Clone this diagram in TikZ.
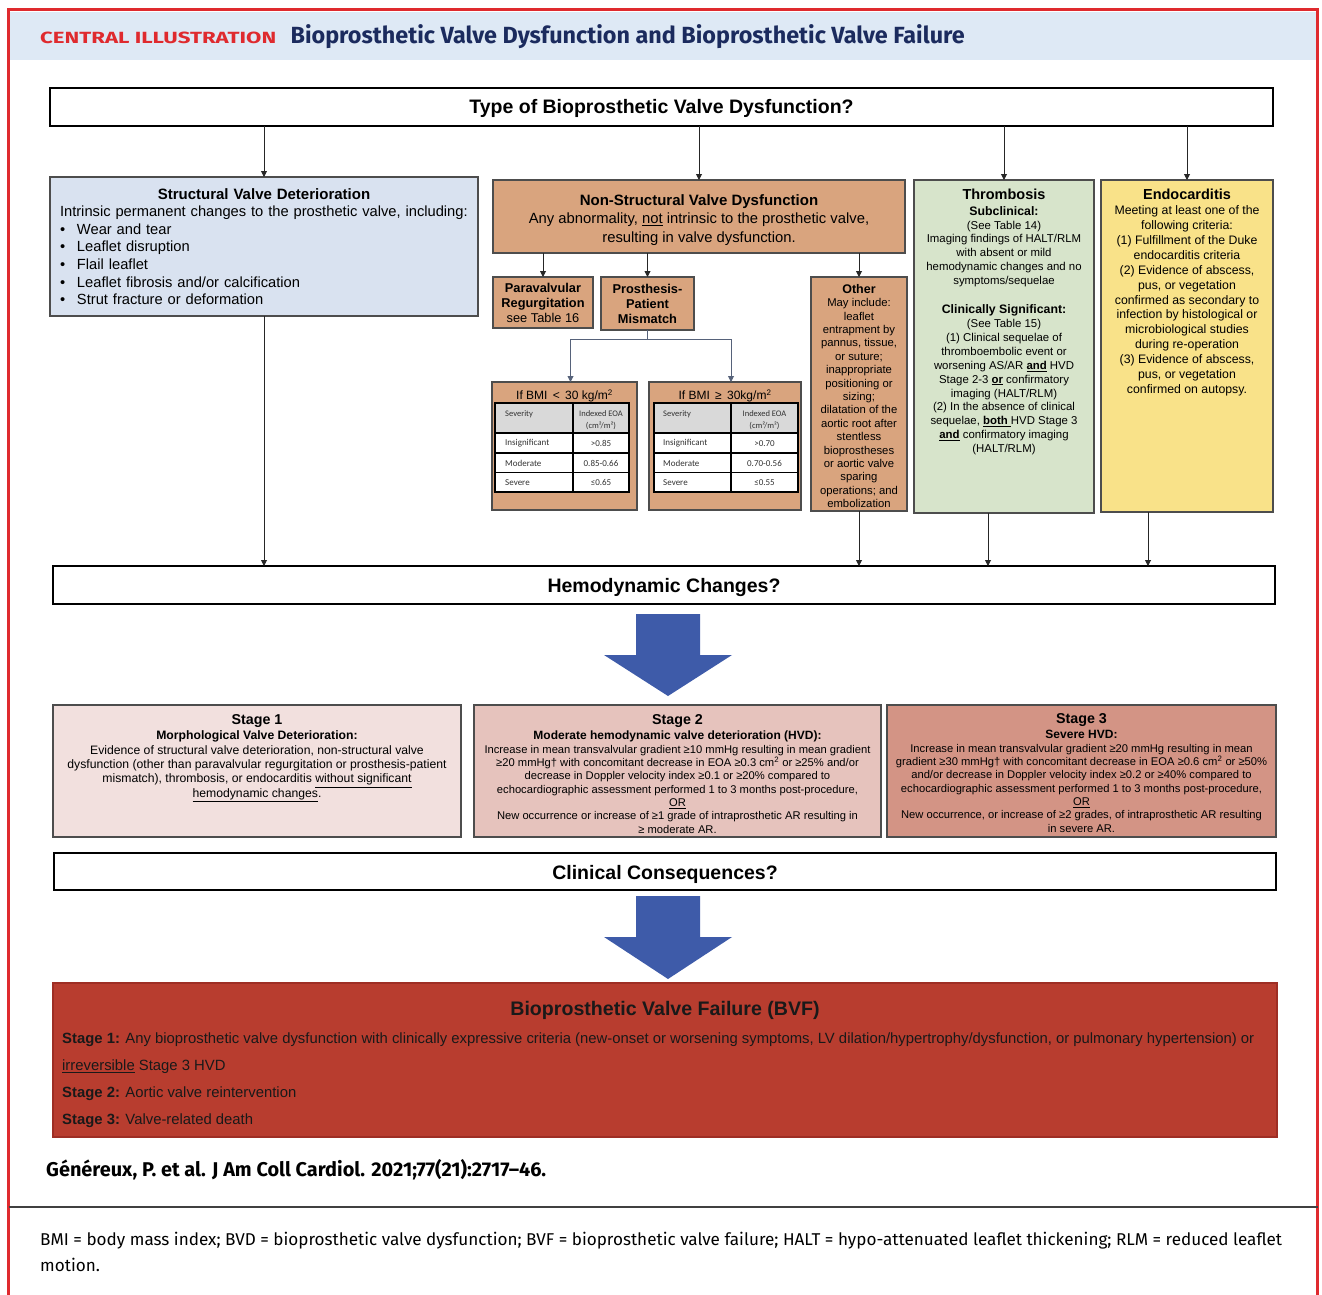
\documentclass[tikz,border=0pt]{standalone}
\usepackage{fontspec}
\usepackage{graphicx}
\setmainfont{Liberation Sans}
\newfontfamily\jaccfont{Fira Sans}
\newfontfamily\tabfont{Carlito}
\usetikzlibrary{positioning, arrows.meta}
\setlength{\parindent}{0pt}

\definecolor{framered}{HTML}{DF2A2E}
\definecolor{bandblue}{HTML}{DEE9F5}
\definecolor{titlenavy}{HTML}{1B2B5E}
\definecolor{boxgray}{HTML}{4D4D4D}
\definecolor{svblue}{HTML}{D9E2F0}
\definecolor{nstan}{HTML}{D9A47E}
\definecolor{thrgreen}{HTML}{D7E4CB}
\definecolor{endoyellow}{HTML}{F9E289}
\definecolor{stageone}{HTML}{F2E0DE}
\definecolor{stagetwo}{HTML}{E6C3BD}
\definecolor{stagethree}{HTML}{D39485}
\definecolor{bvfred}{HTML}{B83D2F}
\definecolor{bvfline}{HTML}{9E2E24}
\definecolor{arrowblue}{HTML}{3E5BA9}
\definecolor{hdrgray}{HTML}{D9D9D9}
\definecolor{linkgray}{HTML}{56627A}

\newcommand{\fsz}[2]{\fontsize{#1}{#2}\selectfont}

\tikzset{
  qbox/.style={draw=black, line width=1.4pt, anchor=north west, inner sep=0pt, outer sep=0pt,
    font=\fsz{19.5}{22}\bfseries, text height=16pt, text depth=2pt},
  cbox/.style={draw=boxgray, line width=1.1pt, anchor=north west, inner sep=0pt, outer sep=0pt},
  boxtext/.style={anchor=north, inner sep=0pt, align=center},
  arr/.style={-{Triangle[length=6pt,width=6pt]}, line width=0.9pt, black!85},
  tabline/.style={line width=1.4pt, black},
  tabtxt/.style={inner sep=0pt, text=black!80, font=\tabfont\fsz{9}{10}},
}

\begin{document}
\begin{tikzpicture}[x=1pt, y=-1pt]
\useasboundingbox (0,0) rectangle (1322,1295);
\node (band) [fill=bandblue, anchor=north west, inner sep=0pt, minimum width=1306pt, minimum height=48pt] at (10,12) {};
\draw[framered, line width=3pt] (8.5,1295) -- (8.5,10) -- (1317.5,10) -- (1317.5,1295);
\node (central) [anchor=base west, inner sep=0pt, text=framered, font=\jaccfont\bfseries] at (40,44) {\resizebox{236pt}{11.5pt}{CENTRAL ILLUSTRATION}};
\node (title) [right=14pt of central.base east, anchor=base west, inner sep=0pt, text=titlenavy, font=\jaccfont\bfseries\fsz{21}{24}] {\resizebox{674pt}{!}{Bioprosthetic Valve Dysfunction and Bioprosthetic Valve Failure}};

\node (typeq) [qbox, minimum width=1223pt, minimum height=38pt] at (50,88) {Type of Bioprosthetic Valve Dysfunction?};

\node (sv) [cbox, fill=svblue, minimum width=428pt, minimum height=139pt] at (50,177) {};
\node (svtext) [anchor=north, inner sep=0pt, text width=408pt, font=\fsz{14.7}{17.6}, below=11pt of sv.north] {{\centering\fsz{15}{17.6}\bfseries Structural Valve Deterioration\par}
Intrinsic permanent changes to the prosthetic valve,  including:\\
\makebox[17pt][l]{\textbullet}Wear and tear\\
\makebox[17pt][l]{\textbullet}Leaflet disruption\\
\makebox[17pt][l]{\textbullet}Flail leaflet\\
\makebox[17pt][l]{\textbullet}Leaflet fibrosis and/or calcification\\
\makebox[17pt][l]{\textbullet}Strut fracture or deformation};

\node (ns) [cbox, fill=nstan, minimum width=412pt, minimum height=73pt] at (493,180) {};
\node (nstext) [boxtext, font=\fsz{14.8}{18.3}, below=14.5pt of ns.north] {{\fsz{15}{18.3}\bfseries Non-Structural Valve Dysfunction}\\Any abnormality, \underline{not} intrinsic to the prosthetic valve,\\resulting in valve dysfunction.};

\node (pvr) [cbox, fill=nstan, minimum width=100pt, minimum height=51pt] at (493,277) {};
\node (pvrtext) [boxtext, font=\fsz{12.8}{15}, below=6.5pt of pvr.north] {\textbf{Paravalvular}\\\textbf{Regurgitation}\\see Table 16};

\node (ppm) [cbox, fill=nstan, minimum width=93pt, minimum height=53pt] at (601,277) {};
\node (ppmtext) [boxtext, font=\fsz{12.8}{15}\bfseries, below=7pt of ppm.north] {Prosthesis-\\Patient\\Mismatch};

\node (oth) [cbox, fill=nstan, minimum width=96pt, minimum height=234pt] at (811,277) {};
\node (othtext) [boxtext, font=\fsz{11.3}{13.4}, below=7pt of oth.north] {{\fsz{12.5}{13.4}\bfseries Other}\\May include:\\leaflet\\entrapment by\\pannus, tissue,\\or suture;\\inappropriate\\positioning or\\sizing;\\dilatation of the\\aortic root after\\stentless\\bioprostheses\\or aortic valve\\sparing\\operations; and\\embolization};

\node (bmilo) [cbox, fill=nstan, minimum width=145pt, minimum height=128pt] at (492,382) {};
\node (bmilotitle) [boxtext, font=\fsz{12}{14}, below=7.5pt of bmilo.north] {If BMI \,<\, 30 kg/m\textsuperscript{2}};
\node (bmihi) [cbox, fill=nstan, minimum width=152pt, minimum height=128pt] at (649,382) {};
\node (bmihititle) [boxtext, font=\fsz{12}{14}, below=7.5pt of bmihi.north] {If BMI \,≥\, 30kg/m\textsuperscript{2}};

\fill[hdrgray] (495,403) rectangle (629,433);
\fill[white] (495,433) rectangle (629,492);
\draw[tabline] (495,403) rectangle (629,492) (573,403) -- (573,492)
  (495,433) -- (629,433) (495,453) -- (629,453) (495,472.5) -- (629,472.5);
\node (losev) [tabtxt, anchor=west, font=\tabfont\fsz{8.5}{10}] at (505,414) {Severity};
\node (loeoa) [tabtxt, align=center, font=\tabfont\fsz{8.5}{12.5}] at (601,420) {Indexed EOA\\(cm²/m²)};
\node (loins) [tabtxt, anchor=west] at (505,443.5) {Insignificant};
\node (loinsv) [tabtxt] at (601,443.5) {>0.85};
\node (lomod) [tabtxt, anchor=west] at (505,463) {Moderate};
\node (lomodv) [tabtxt] at (601,463) {0.85-0.66};
\node (losvr) [tabtxt, anchor=west] at (505,482.5) {Severe};
\node (losvrv) [tabtxt] at (601,482.5) {≤0.65};

\fill[hdrgray] (654,403) rectangle (798,433);
\fill[white] (654,433) rectangle (798,492);
\draw[tabline] (654,403) rectangle (798,492) (731,403) -- (731,492)
  (654,433) -- (798,433) (654,453) -- (798,453) (654,472.5) -- (798,472.5);
\node (hisev) [tabtxt, anchor=west, font=\tabfont\fsz{8.5}{10}] at (663,414) {Severity};
\node (hieoa) [tabtxt, align=center, font=\tabfont\fsz{8.5}{12.5}] at (764.5,420) {Indexed EOA\\(cm²/m²)};
\node (hiins) [tabtxt, anchor=west] at (663,443.5) {Insignificant};
\node (hiinsv) [tabtxt] at (764.5,443.5) {>0.70};
\node (himod) [tabtxt, anchor=west] at (663,463) {Moderate};
\node (himodv) [tabtxt] at (764.5,463) {0.70-0.56};
\node (hisvr) [tabtxt, anchor=west] at (663,482.5) {Severe};
\node (hisvrv) [tabtxt] at (764.5,482.5) {≤0.55};

\node (thr) [cbox, fill=thrgreen, minimum width=180pt, minimum height=333pt] at (914,180) {};
\node (thrtext) [boxtext, font=\fsz{11.4}{13.9}, below=8.4pt of thr.north] {{\fsz{14.5}{13.9}\bfseries Thrombosis}\\[2.1pt]{\fsz{12.3}{13.9}\bfseries Subclinical:}\\(See Table 14)\\Imaging findings of HALT/RLM\\with absent or mild\\hemodynamic changes and no\\symptoms/sequelae\\[15.1pt]{\fsz{12.3}{13.9}\bfseries Clinically Significant:}\\(See Table 15)\\(1) Clinical sequelae of\\thromboembolic event or\\worsening AS/AR \underline{\textbf{and}} HVD\\Stage 2-3 \underline{\textbf{or}} confirmatory\\imaging (HALT/RLM)\\(2) In the absence of clinical\\sequelae, \underline{\textbf{both }}HVD Stage 3\\\underline{\textbf{and}} confirmatory imaging\\(HALT/RLM)};

\node (endo) [cbox, fill=endoyellow, minimum width=172pt, minimum height=332pt] at (1101,180) {};
\node (endotext) [boxtext, font=\fsz{12.3}{14.9}, below=8.4pt of endo.north] {{\fsz{14.5}{14.9}\bfseries Endocarditis}\\[0.6pt]Meeting at least one of the\\following criteria:\\(1) Fulfillment of the Duke\\endocarditis criteria\\(2) Evidence of abscess,\\pus, or vegetation\\confirmed as secondary to\\infection by histological or\\microbiological studies\\during re-operation\\(3) Evidence of abscess,\\pus, or vegetation\\confirmed on autopsy.};

\node (hemo) [qbox, minimum width=1222pt, minimum height=38pt, text height=17pt] at (53,566) {Hemodynamic Changes?};

\draw[arr] (typeq.south -| sv.north) -- (sv.north);
\draw[arr] (typeq.south -| ns.north) -- (ns.north);
\draw[arr] (typeq.south -| thr.north) -- (thr.north);
\draw[arr] (typeq.south -| endo.north) -- (endo.north);
\draw[arr] (ns.south -| pvr.north) -- (pvr.north);
\draw[arr] (ns.south -| ppm.north) -- (ppm.north);
\draw[arr] (ns.south -| oth.north) -- (oth.north);
\draw[linkgray, line width=0.9pt] (ppm.south) -- ++(0,9) coordinate (split);
\draw[arr, linkgray] (split) -| ([xshift=6pt]bmilo.north);
\draw[arr, linkgray] (split) -| ([xshift=6pt]bmihi.north);
\draw[arr] (sv.south) -- (sv.south |- hemo.north);
\draw[arr] (oth.south) -- (oth.south |- hemo.north);
\draw[arr] ([xshift=-16pt]thr.south) -- ([xshift=-16pt]thr.south |- hemo.north);
\draw[arr] ([xshift=-39pt]endo.south) -- ([xshift=-39pt]endo.south |- hemo.north);

\fill[arrowblue] (636,614) -- (700,614) -- (700,655) -- (732,655) -- (668,696) -- (604,655) -- (636,655) -- cycle;

\node (s1) [cbox, fill=stageone, minimum width=408pt, minimum height=132pt] at (53,705) {};
\node (s1text) [boxtext, font=\fsz{12.2}{14.1}, below=9.6pt of s1.north] {{\fsz{14.3}{14.1}\bfseries Stage 1}\\[0.2pt]{\fsz{12.2}{14.1}\bfseries Morphological Valve Deterioration:}\\[1.6pt]Evidence of structural valve deterioration, non-structural valve\\dysfunction (other than paravalvular regurgitation or prosthesis-patient\\mismatch), thrombosis, or endocarditis \underline{without significant}\\\underline{hemodynamic changes}.};

\node (s2) [cbox, fill=stagetwo, minimum width=407pt, minimum height=132pt] at (474,705) {};
\node (s2text) [boxtext, font=\fsz{11.2}{13.35}, below=9.6pt of s2.north] {{\fsz{14.3}{13.35}\bfseries Stage 2}\\[0.95pt]{\fsz{12}{13.35}\bfseries Moderate hemodynamic valve deterioration (HVD):}\\[0.65pt]Increase in mean transvalvular gradient ≥10 mmHg resulting in mean gradient\\≥20 mmHg† with concomitant decrease in EOA ≥0.3 cm\textsuperscript{2} or ≥25\% and/or\\decrease in Doppler velocity index ≥0.1 or ≥20\% compared to\\echocardiographic assessment performed 1 to 3 months post-procedure,\\\underline{OR}\\New occurrence or increase of ≥1 grade of intraprosthetic AR resulting in\\≥ moderate AR.};

\node (s3) [cbox, fill=stagethree, minimum width=389pt, minimum height=132pt] at (887,705) {};
\node (s3text) [boxtext, font=\fsz{11.2}{13.35}, below=8.6pt of s3.north] {{\fsz{14.3}{13.35}\bfseries Stage 3}\\[0.95pt]{\fsz{12}{13.35}\bfseries Severe HVD:}\\[0.65pt]Increase in mean transvalvular gradient ≥20 mmHg resulting in mean\\gradient ≥30 mmHg† with concomitant decrease in EOA ≥0.6 cm\textsuperscript{2} or ≥50\%\\and/or decrease in Doppler velocity index ≥0.2 or ≥40\% compared to\\echocardiographic assessment performed 1 to 3 months post-procedure,\\\underline{OR}\\New occurrence, or increase of ≥2 grades, of intraprosthetic AR resulting\\in severe AR.};

\node (clin) [qbox, minimum width=1222pt, minimum height=37pt, text height=17pt] at (54,853) {Clinical Consequences?};

\fill[arrowblue] (636,896) -- (700,896) -- (700,937) -- (732,937) -- (668,979) -- (604,937) -- (636,937) -- cycle;

\node (bvf) [cbox, draw=bvfline, fill=bvfred, minimum width=1224pt, minimum height=154pt] at (53,983) {};
\node (bvftitle) [boxtext, text=black!90, font=\fsz{19.6}{22}\bfseries, below=17.7pt of bvf.north] {Bioprosthetic Valve Failure (BVF)};
\node (bvftext) [anchor=north west, inner sep=0pt, align=left, text=black!90, font=\fsz{14.85}{27}, below right=49.2pt and 9pt of bvf.north west] {\textbf{Stage 1:} Any bioprosthetic valve dysfunction with clinically expressive criteria (new-onset or worsening symptoms, LV dilation/hypertrophy/dysfunction, or pulmonary hypertension) or\\\underline{irreversible} Stage 3 HVD\\\textbf{Stage 2:} Aortic valve reintervention\\\textbf{Stage 3:} Valve-related death};

\node (cite) [anchor=base west, inner sep=0pt, font=\jaccfont\bfseries] at (46,1176) {\resizebox{500pt}{!}{\fsz{18}{20}Généreux, P. et al. J Am Coll Cardiol. 2021;77(21):2717–46.}};
\draw[black!75, line width=1.5pt] (8.5,1207) -- (1317.5,1207);
\node (abbr) [anchor=north west, inner sep=0pt, align=left, font=\jaccfont\fsz{17.1}{26}] at (40,1232) {BMI = body mass index; BVD = bioprosthetic valve dysfunction; BVF = bioprosthetic valve failure; HALT = hypo-attenuated leaflet thickening; RLM = reduced leaflet\\motion.};
\end{tikzpicture}
\end{document}
